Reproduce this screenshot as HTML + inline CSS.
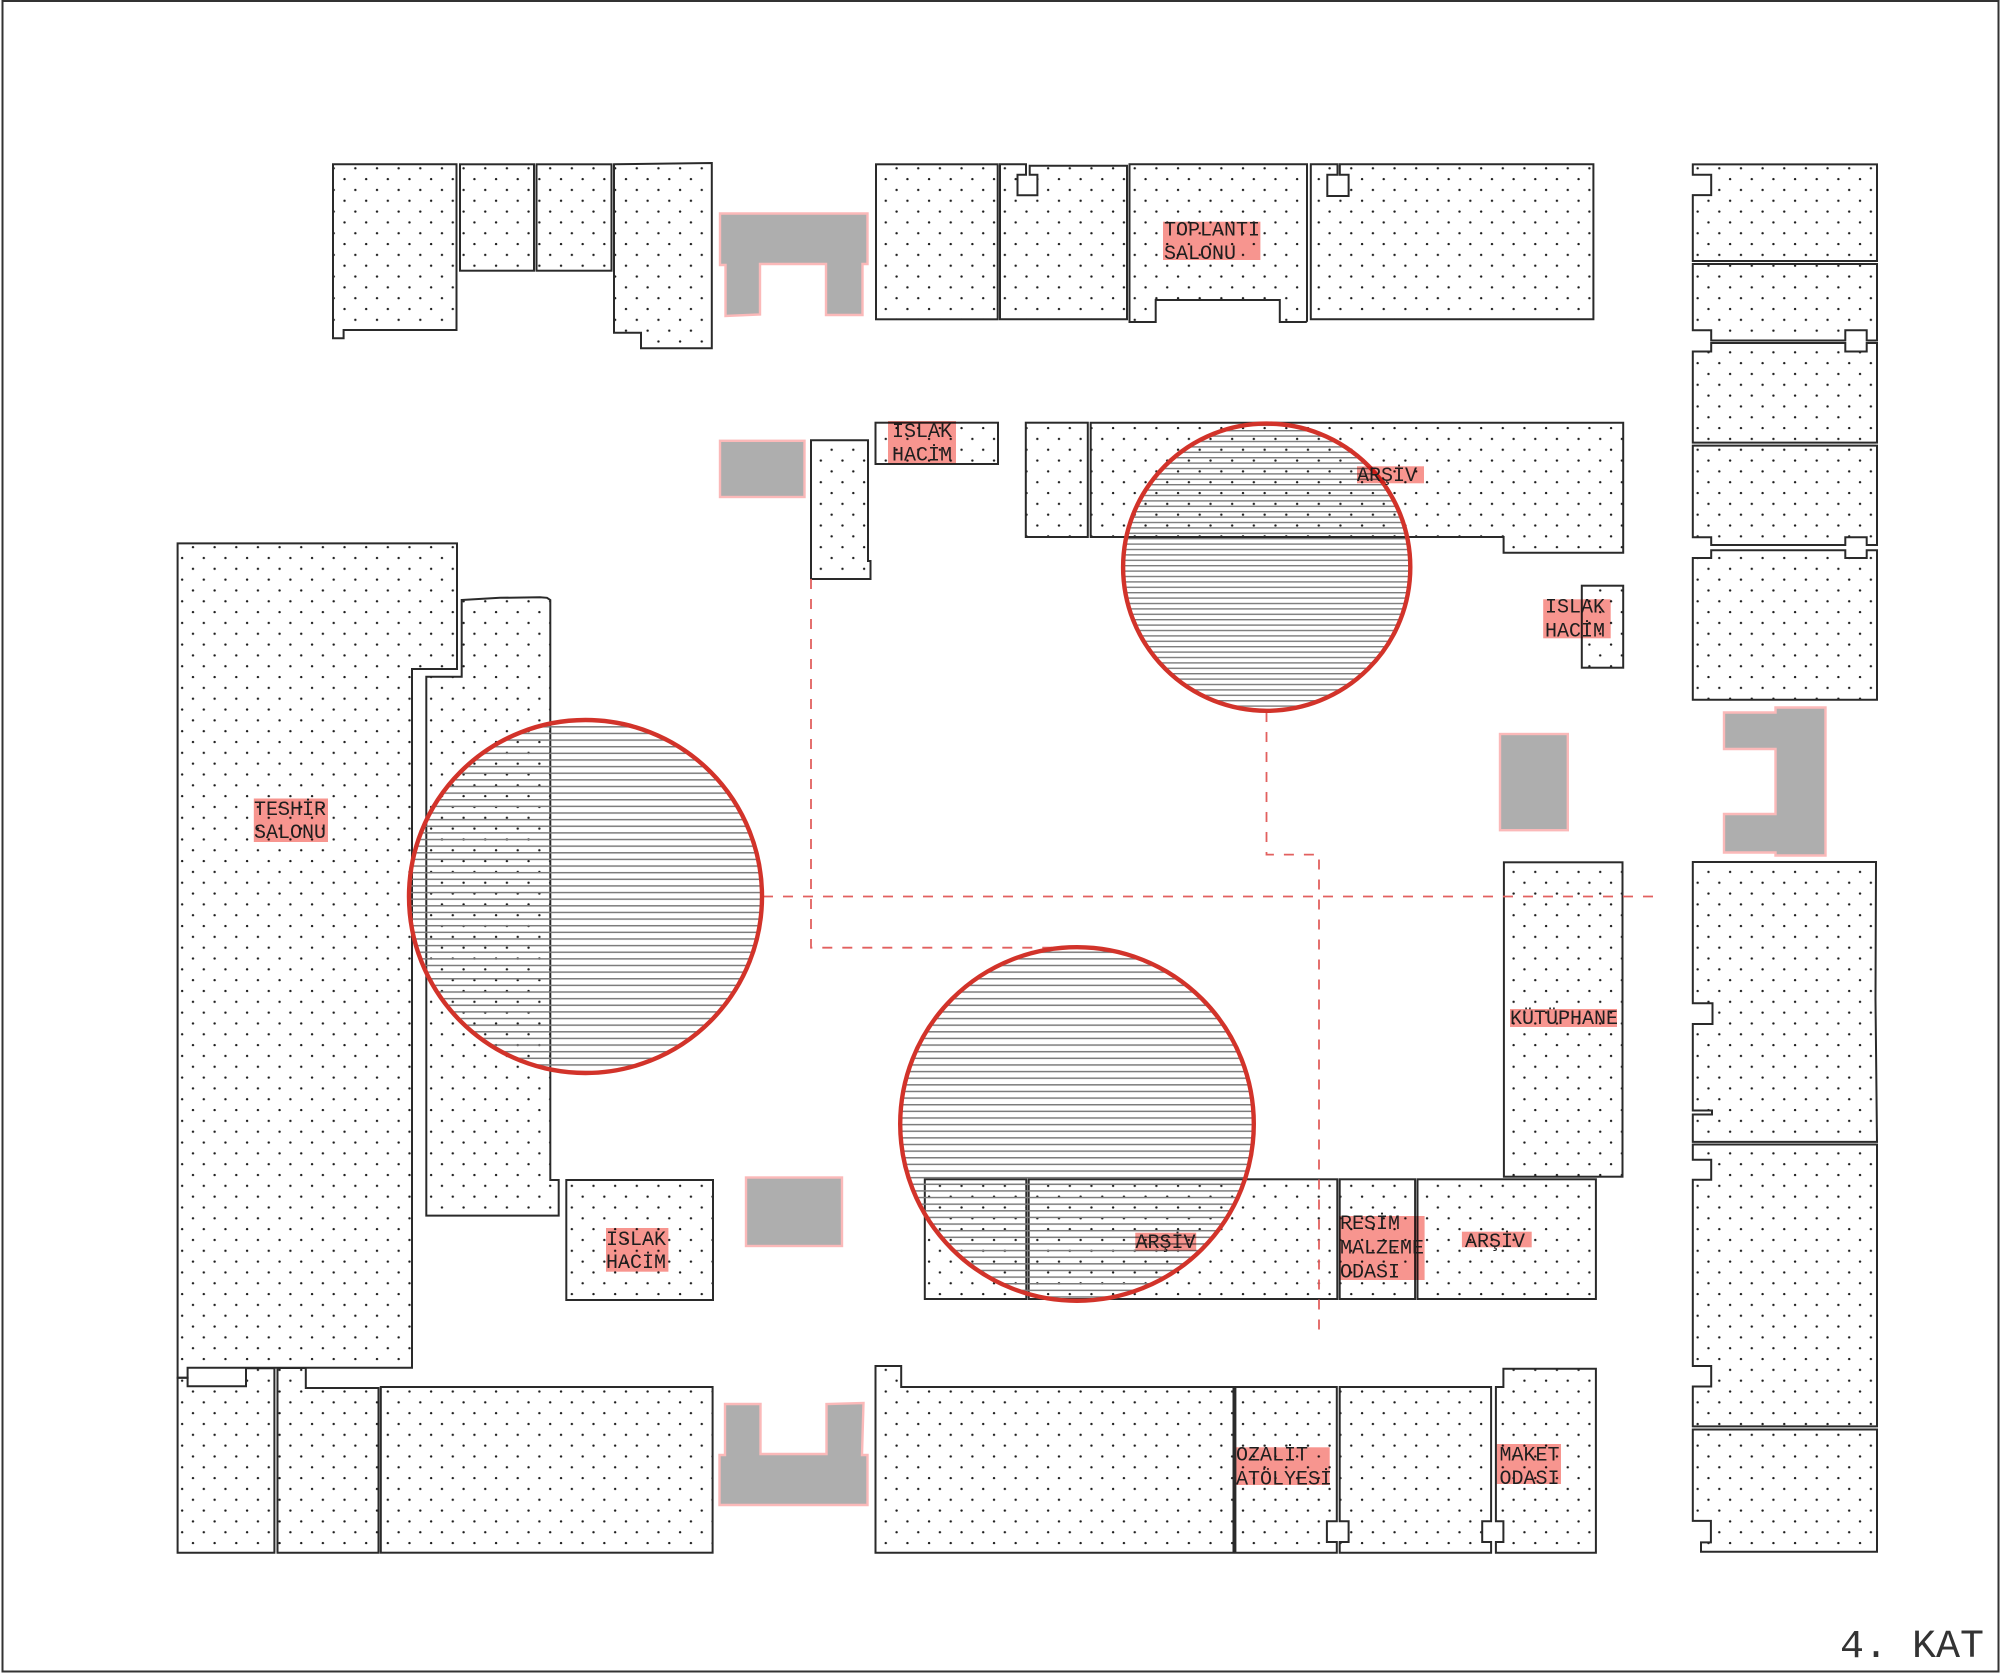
<!DOCTYPE html>
<html><head><meta charset="utf-8"><style>
html,body{margin:0;padding:0;background:#fff}
svg{display:block}
.r{fill:url(#d);stroke:#2a2a2a;stroke-width:2;stroke-linejoin:miter}
.g{fill:#aeaeae;stroke:#fbb9b9;stroke-width:2.4}
.c{stroke:#d2332a;stroke-width:4.4}
.dash{fill:none;stroke:#e2605f;stroke-width:1.8;stroke-dasharray:10 10}
.l{fill:#f7958f;mix-blend-mode:multiply}
text{font-family:"Liberation Mono",monospace;font-size:20px;fill:#1e1e1e}
</style></head><body>
<svg xmlns="http://www.w3.org/2000/svg" width="2000" height="1673" viewBox="0 0 2000 1673">
<defs>
<pattern id="d" patternUnits="userSpaceOnUse" x="328.7" y="163.3" width="21.65" height="21.65">
<circle cx="5" cy="5" r="1.2" fill="#1c1c1c"/><circle cx="15.825" cy="15.825" r="1.2" fill="#1c1c1c"/>
</pattern>
<pattern id="h1" patternUnits="userSpaceOnUse" x="0" y="732.7" width="10" height="6.63">
<rect x="0" y="0" width="10" height="1.5" fill="#7c7c7c"/>
</pattern>
<pattern id="h2" patternUnits="userSpaceOnUse" x="0" y="430" width="10" height="5.4">
<rect x="0" y="0" width="10" height="1.4" fill="#7c7c7c"/>
</pattern>
</defs>
<rect width="2000" height="1673" fill="#fff"/>
<rect x="2.5" y="1" width="1996" height="1670.5" fill="none" stroke="#333" stroke-width="2"/>

<!-- top-left rooms -->
<polygon class="r" points="333,164.3 456.5,164.3 456.5,330 343.6,330 343.6,338.3 333,338.3"/>
<rect class="r" x="460" y="164.3" width="74" height="106.4"/>
<rect class="r" x="536.5" y="164.3" width="75" height="106.4"/>
<polygon class="r" points="614,164.3 711.8,163 711.8,348.3 641,348.3 641,332.7 614,332.7"/>

<!-- top-middle rooms -->
<rect class="r" x="876" y="164.3" width="121.7" height="155"/>
<polygon class="r" points="1000,164.3 1026,164.3 1026,174.7 1017.5,174.7 1017.5,195.3 1037.4,195.3 1037.4,174.7 1029.7,174.7 1029.7,165.7 1127,165.7 1127,319.3 1000,319.3"/>
<polygon class="r" points="1129.5,164.3 1307,164.3 1307,321 1306,322 1279.8,322 1279.8,300 1155.7,300 1155.7,322 1129.5,322"/>
<polygon class="r" points="1310.8,164.3 1337.5,164.3 1337.5,174.7 1327.3,174.7 1327.3,196 1348.6,196 1348.6,174.7 1339.8,174.7 1339.8,164.3 1593.4,164.3 1593.4,319.3 1310.8,319.3"/>

<!-- second band -->
<polygon class="r" points="811,440.3 868,440.3 868,561 870.5,561 870.5,579 811,579"/>
<rect class="r" x="875.5" y="422.7" width="122.5" height="41.3"/>
<rect class="r" x="1025.8" y="422.7" width="62" height="114.3"/>
<polygon class="r" points="1090.7,422.7 1623.2,422.7 1623.2,552.7 1503.6,552.7 1503.6,537 1090.7,537"/>
<rect class="r" x="1581.8" y="585.7" width="41.4" height="82"/>

<!-- right column -->
<polygon class="r" points="1692.8,164.4 1877,164.4 1877,261 1692.8,261 1692.8,195.1 1711.2,195.1 1711.2,174.8 1692.8,174.8"/>
<polygon class="r" points="1692.8,264 1877,264 1877,340.5 1866.7,340.5 1866.7,330.2 1845.3,330.2 1845.3,340.5 1711.2,340.5 1711.2,330.2 1692.8,330.2"/>
<polygon class="r" points="1711.2,343 1845.3,343 1845.3,351.5 1866.7,351.5 1866.7,343 1877,343 1877,442.6 1692.8,442.6 1692.8,351.5 1711.2,351.5"/>
<polygon class="r" points="1692.8,445.6 1877,445.6 1877,545 1866.7,545 1866.7,537.3 1845.3,537.3 1845.3,545 1711.2,545 1711.2,537.3 1692.8,537.3"/>
<polygon class="r" points="1711.2,550.3 1845.3,550.3 1845.3,558 1866.7,558 1866.7,550.3 1877,550.3 1877,699.7 1692.8,699.7 1692.8,558 1711.2,558"/>
<polygon class="r" points="1692.8,862 1876,862 1875.5,1000 1877,1141.9 1692.8,1141.9 1692.8,1114.5 1712,1114.5 1712,1110.5 1692.8,1110.5 1692.8,1024 1712.5,1024 1712.5,1003.3 1692.8,1003.3"/>
<polygon class="r" points="1692.8,1144.5 1877,1144.5 1877,1426.4 1692.8,1426.4 1692.8,1386.5 1711.2,1386.5 1711.2,1366 1692.8,1366 1692.8,1179.7 1711.2,1179.7 1711.2,1159.7 1692.8,1159.7"/>
<polygon class="r" points="1692.8,1429.5 1877,1429.5 1877,1551.8 1701,1551.8 1701,1542.4 1710.9,1542.4 1710.9,1520.9 1692.8,1520.9"/>

<!-- left block -->
<polygon class="r" points="177.6,543.4 457,543.4 457,669 412,669 412,1367.7 187.6,1367.7 187.6,1377.7 177.6,1377.7"/>
<polygon class="r" points="461.7,600 500,597.8 540,597.3 547,597.8 550.3,600 550.3,1180 558.7,1180 558.7,1215.6 426.3,1215.6 426.3,676.7 461.7,676.7"/>
<polygon class="r" points="177.6,1377.7 187.6,1377.7 187.6,1386.3 246,1386.3 246,1368.3 274.4,1368.3 274.4,1552.7 177.6,1552.7"/>
<polygon class="r" points="277.5,1368 305.8,1368 305.8,1388 378.5,1388 378.5,1552.7 277.5,1552.7"/>
<rect class="r" x="380.8" y="1387" width="331.8" height="165.7"/>
<rect class="r" x="566.3" y="1180" width="146.7" height="120"/>

<!-- lower middle rooms -->
<rect class="r" x="924.8" y="1179.3" width="101.5" height="119.7"/>
<rect class="r" x="1028.7" y="1179.3" width="308.6" height="119.7"/>
<rect class="r" x="1339.7" y="1179.3" width="75.4" height="119.7"/>
<rect class="r" x="1417.5" y="1179.3" width="178.4" height="119.7"/>
<rect class="r" x="1503.9" y="862.3" width="118.6" height="314.4"/>

<!-- bottom rooms -->
<polygon class="r" points="875.5,1366 901.2,1366 901.2,1387 1233.5,1387 1233.5,1552.7 875.5,1552.7"/>
<polygon class="r" points="1235.4,1387 1336.8,1387 1336.8,1521.3 1326.9,1521.3 1326.9,1542 1336.8,1542 1336.8,1552.7 1235.4,1552.7"/>
<polygon class="r" points="1339.7,1387 1491.1,1387 1491.1,1521.3 1482.2,1521.3 1482.2,1542 1491.1,1542 1491.1,1552.7 1339.7,1552.7 1339.7,1542 1348.6,1542 1348.6,1521.3 1339.7,1521.3"/>
<polygon class="r" points="1495.9,1387 1503.4,1387 1503.4,1368.7 1595.9,1368.7 1595.9,1552.7 1495.9,1552.7 1495.9,1542 1503.4,1542 1503.4,1521.3 1495.9,1521.3"/>

<!-- gray cores -->
<polygon class="g" points="720,213.5 867.5,213.5 867.5,264 862.5,264 862.5,315 826,315 826,264 760,264 760,314.5 725.5,316 725.5,265 720,265"/>
<rect class="g" x="720" y="440.8" width="84.5" height="56.2"/>
<rect class="g" x="1500" y="734" width="67.8" height="96.2"/>
<polygon class="g" points="1724,712.5 1775.5,712.5 1775.5,707.5 1825.5,707.5 1825.5,855.5 1775.5,855.5 1775.5,852.5 1724,852.5 1724,814 1775.5,814 1775.5,749 1724,749"/>
<rect class="g" x="746" y="1177.5" width="96" height="68.5"/>
<polygon class="g" points="725,1404 760.5,1404 760.5,1454 826.5,1454 826.5,1404 863.5,1403 862,1455 867.5,1455 867.5,1505 719.5,1505 719.5,1455 725,1455"/>

<!-- dashed axes -->
<polyline class="dash" points="811,579 811,947.7 1075,947.7"/>
<line class="dash" x1="763" y1="896.5" x2="1656" y2="896.5"/>
<polyline class="dash" points="1266.5,712 1266.5,854.6 1319,854.6 1319,1330"/>

<!-- circles -->
<circle cx="585.5" cy="896.5" r="176.5" fill="url(#h1)"/>
<circle cx="1266.7" cy="567.2" r="143.6" fill="url(#h2)"/>
<circle cx="1077" cy="1124" r="176.8" fill="url(#h1)"/>
<circle class="c" cx="585.5" cy="896.5" r="176.5" fill="none"/>
<circle class="c" cx="1266.7" cy="567.2" r="143.6" fill="none"/>
<circle class="c" cx="1077" cy="1124" r="176.8" fill="none"/>

<!-- label backgrounds -->
<rect class="l" x="1163" y="221.7" width="97.4" height="38.3"/>
<rect class="l" x="888" y="421" width="68" height="42.3"/>
<rect class="l" x="1357" y="466.3" width="67" height="17"/>
<rect class="l" x="1543.2" y="599.3" width="67.5" height="39"/>
<rect class="l" x="253.8" y="798.5" width="74.2" height="43.5"/>
<rect class="l" x="1510" y="1009" width="107" height="18"/>
<rect class="l" x="606" y="1228" width="62.4" height="43.7"/>
<rect class="l" x="1135.3" y="1232.7" width="60.9" height="18"/>
<rect class="l" x="1339.2" y="1216" width="85.4" height="64"/>
<rect class="l" x="1461.9" y="1231.7" width="69.8" height="15.6"/>
<rect class="l" x="1236.3" y="1447.3" width="93.4" height="37.7"/>
<rect class="l" x="1496.8" y="1444" width="64.2" height="40"/>

<!-- label text -->
<text x="1164" y="235.5">TOPLANTI</text>
<text x="1164" y="259">SALONU</text>
<text x="892" y="437">ISLAK</text>
<text x="892" y="460.5">HACİM</text>
<text x="1357" y="481">ARŞİV</text>
<text x="1545" y="612.5">ISLAK</text>
<text x="1545" y="636.5">HACİM</text>
<text x="254" y="815">TESHİR</text>
<text x="254" y="838">SALONU</text>
<text x="1510" y="1024">KÜTÜPHANE</text>
<text x="606" y="1245">ISLAK</text>
<text x="606" y="1268">HACİM</text>
<text x="1135.5" y="1248">ARŞİV</text>
<text x="1340" y="1229">RESİM</text>
<text x="1340" y="1253.5">MALZEME</text>
<text x="1340" y="1277.5">ODASI</text>
<text x="1465" y="1247">ARŞİV</text>
<text x="1236" y="1460.5">OZALİT</text>
<text x="1236" y="1484.5">ATÖLYESİ</text>
<text x="1499.5" y="1460.5">MAKET</text>
<text x="1499.5" y="1484">ODASI</text>

<text x="1840" y="1657" style="font-size:40px;fill:#333">4. KAT</text>
</svg>
</body></html>
